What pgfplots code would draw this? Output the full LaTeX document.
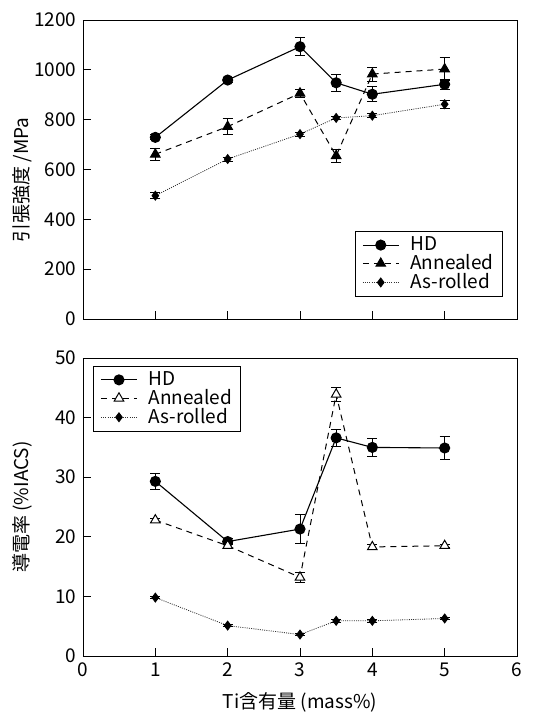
\documentclass[border=0pt]{standalone}
\usepackage{fontspec}
\setmainfont{Noto Sans CJK JP}
\usepackage{pgfplots}
\pgfplotsset{compat=1.18}
\begin{document}
\fontsize{19}{22}\selectfont
\begin{tikzpicture}[x=1pt,y=1pt]
\pgfplotsset{
  myax/.style={
    scale only axis, width=434pt, height=299pt,
    xmin=0, xmax=6,
    axis line style={line width=0.9pt},
    tick style={line width=0.9pt, black},
    tick align=inside, xtick pos=bottom, ytick pos=left,
    major tick length=8pt,
    /pgf/number format/assume math mode=true,
    /pgf/number format/1000 sep={},
    tick label style={font=\fontsize{19}{22}\selectfont},
    label style={font=\fontsize{19}{22}\selectfont},
    legend style={draw=black, line width=0.9pt, font=\fontsize{19}{22}\selectfont, inner xsep=7pt, inner ysep=3pt, row sep=-3pt,
      column sep=9pt, cells={anchor=west}},
    legend image code/.code={
      \draw[##1] (0pt,0pt) -- (36pt,0pt);
      \draw[##1, solid] plot coordinates {(18pt,0pt)};
    },
    every axis y label/.style={rotate=90, anchor=center},
    error bars/y dir=both, error bars/y explicit,
    error bars/error bar style={solid, line width=0.8pt, black},
    error bars/error mark options={rotate=90, mark size=5pt, solid, line width=0.8pt},
  },
  hd/.style={black, solid, line width=1.1pt, mark=*, mark size=5pt, mark options={solid, fill=black}},
  an/.style={black, line width=1.0pt, dash pattern=on 6pt off 5pt, mark=triangle*, mark size=5.5pt, mark options={solid, fill=black}},
  anw/.style={black, line width=1.0pt, dash pattern=on 6pt off 5pt, mark=triangle*, mark size=5.5pt, mark options={solid, fill=white}},
  ar/.style={black!80, line width=0.8pt, dash pattern=on 1pt off 1.2pt, mark=diamond*, mark size=4.5pt, mark options={solid, fill=black, draw=black}},
}
\begin{axis}[myax, name=top, at={(0,0)}, anchor=south west,
  ymin=0, ymax=1200, ytick={0,200,...,1200},
  xtick={1,2,3,4,5}, xticklabels={},
  ylabel={引張強度 /MPa},
  ylabel style={at={(axis description cs:-0.14,0.465)}},
  legend style={at={(0.968,0.074)}, anchor=south east},
]
\addplot[hd] coordinates {(1,729) +- (0,10) (2,959) +- (0,10) (3,1093) +- (0,37) (3.5,948) +- (0,34) (4,902) +- (0,30) (5,942) +- (0,20)};
\addlegendentry{HD}
\addplot[an] coordinates {(1,661) +- (0,23) (2,772) +- (0,33) (3,906) +- (0,15) (3.5,655) +- (0,25) (4,983) +- (0,28) (5,1003) +- (0,45)};
\addlegendentry{Annealed}
\addplot[ar] coordinates {(1,495) +- (0,12) (2,642) +- (0,8) (3,742) +- (0,8) (3.5,807) +- (0,5) (4,816) +- (0,8) (5,862) +- (0,15)};
\addlegendentry{As-rolled}
\end{axis}
\begin{axis}[myax, name=bot, at={(0,-39pt)}, anchor=north west, height=298pt,
  ymin=0, ymax=50, ytick={0,10,...,50},
  xtick={0,1,...,6},
  ylabel={導電率 (\%IACS)},
  ylabel style={at={(axis description cs:-0.14,0.5)}},
  xlabel={Ti含有量 (mass\%)},
  xlabel style={at={(axis description cs:0.5,-0.154)}, anchor=center},
  legend style={at={(0.023,0.973)}, anchor=north west},
]
\addplot[hd] coordinates {(1,29.3) +- (0,1.4) (2,19.2) +- (0,0.5) (3,21.3) +- (0,2.4) (3.5,36.6) +- (0,1.5) (4,35.0) +- (0,1.5) (5,34.9) +- (0,1.9)};
\addlegendentry{HD}
\addplot[anw] coordinates {(1,22.8) +- (0,0.3) (2,18.5) +- (0,0.4) (3,13.2) +- (0,0.8) (3.5,43.9) +- (0,1.2) (4,18.3) +- (0,0.4) (5,18.5) +- (0,0.3)};
\addlegendentry{Annealed}
\addplot[ar] coordinates {(1,9.8) +- (0,0.2) (2,5.1) +- (0,0.2) (3,3.6) +- (0,0.2) (3.5,5.9) +- (0,0.2) (4,5.9) +- (0,0.2) (5,6.3) +- (0,0.2)};
\addlegendentry{As-rolled}
\end{axis}
\pgfresetboundingbox
\path (-83pt,-394pt) rectangle (455pt,319pt);
\end{tikzpicture}
\end{document}
